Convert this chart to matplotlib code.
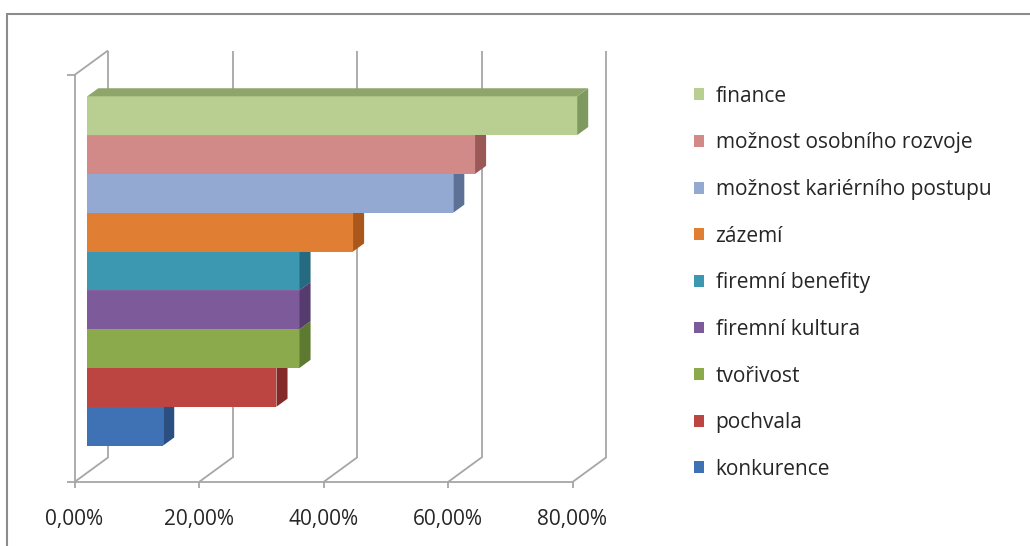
import matplotlib.pyplot as plt
from matplotlib.patches import Polygon, Rectangle

# data, bottom bar first
categories = ['konkurence', 'pochvala', 'tvořivost', 'firemní kultura', 'firemní benefity',
              'zázemí', 'možnost kariérního postupu', 'možnost osobního rozvoje', 'finance']
values = [12.2, 30.4, 34.1, 34.1, 34.1, 42.7, 58.8, 62.3, 78.7]
front_colors = ['#3F72B5', '#BC4541', '#8BAA4B', '#7D5B9A', '#3C98B0',
                '#E07E33', '#93A9D2', '#D28A89', '#B9CF92']
side_colors = ['#2A4F80', '#842B29', '#5E7930', '#553B6E', '#256A80',
               '#A9571A', '#5D7196', '#9A5957', '#7F9A5E']
top_colors = ['#5A86C0', '#C9605C', '#9CB866', '#9277AC', '#5AAAC0',
              '#E89455', '#A9BBDC', '#DCA2A1', '#8FA66B']
xticks = [0, 20, 40, 60, 80]
xtick_labels = ['0,00%', '20,00%', '40,00%', '60,00%', '80,00%']

plt.rcParams['font.family'] = ['Open Sans', 'DejaVu Sans']

# pixel geometry of the fake 3D box
X0, PX = 74.5, 6.225      # front x origin, px per percent
Y0, PY = 482.0, 38.8      # front floor, px per bar
W, H = 1030, 546
DX = 33.5 / PX            # full depth shift in data units
DY = 24.5 / PY
WALL_TOP = (Y0 - 75) / PY
BAR_Y0 = 0.70
D_FRONT, D_BACK = 0.38, 0.71

fig = plt.figure(figsize=(W / 100, H / 100), dpi=100)
ax = fig.add_axes([0, 0, 1, 1])
ax.set_xlim(-X0 / PX, (W - X0) / PX)
ax.set_ylim((Y0 - H) / PY, Y0 / PY)
ax.axis('off')


def proj(x, y, d):
    return x + d * DX, y + d * DY


grid = dict(color='#A6A6A6', lw=1.3, zorder=1, solid_capstyle='butt')

# back wall gridlines and floor diagonals
for t in xticks:
    bx, by = proj(t, 0, 1)
    tx, ty = proj(t, WALL_TOP, 1)
    ax.plot([bx, tx], [by, ty], **grid)
    ax.plot([t, bx], [0, by], **grid)
    ax.plot([t, t], [0, -6 / PY], **grid)

# front floor edge, left wall, ticks
ax.plot([xticks[0], xticks[-1]], [0, 0], **grid)
ax.plot([0, 0], [0, WALL_TOP], **grid)
tx, ty = proj(0, WALL_TOP, 1)
ax.plot([0, tx], [WALL_TOP, ty], **grid)
ax.plot([-8 / PX, 0], [0, 0], **grid)
ax.plot([-8 / PX, 0], [WALL_TOP, WALL_TOP], **grid)

for t, lab in zip(xticks, xtick_labels):
    ax.text(t, (Y0 - 519) / PY, lab, ha='center', va='center', fontsize=15, color='#262626')

# bars
for i, (v, fc, sc, tc, lab) in enumerate(zip(values, front_colors, side_colors, top_colors, categories)):
    y0 = BAR_Y0 + i
    y1 = y0 + 1
    fx, fy = proj(0, y0, D_FRONT)
    ax.barh(fy + 0.5, v, left=fx, height=1, color=fc, zorder=2 + i * 0.1, label=lab, lw=0)
    side = [proj(v, y0, D_FRONT), proj(v, y0, D_BACK), proj(v, y1, D_BACK), proj(v, y1, D_FRONT)]
    ax.add_patch(Polygon(side, closed=True, fc=sc, ec='none', zorder=2 + i * 0.1 + 0.01))
    top = [proj(0, y1, D_FRONT), proj(v, y1, D_FRONT), proj(v, y1, D_BACK), proj(0, y1, D_BACK)]
    ax.add_patch(Polygon(top, closed=True, fc=tc, ec='none', zorder=2 + i * 0.1 + 0.01))

# chart area border
fig.patches.append(Rectangle((7 / W, -0.1), 1.2, 1.1 - 14 / H, transform=fig.transFigure,
                             fill=False, ec='#8C8C8C', lw=1.5))

handles, labels = ax.get_legend_handles_labels()
fig.legend(handles[::-1], labels[::-1], loc='upper left',
           bbox_to_anchor=(675 / W, 1 - 67 / H), frameon=False,
           fontsize=15, labelspacing=1.23, handlelength=0.5, handleheight=0.5,
           handletextpad=0.55, labelcolor='#262626')

fig.savefig('out.png', dpi=100)
